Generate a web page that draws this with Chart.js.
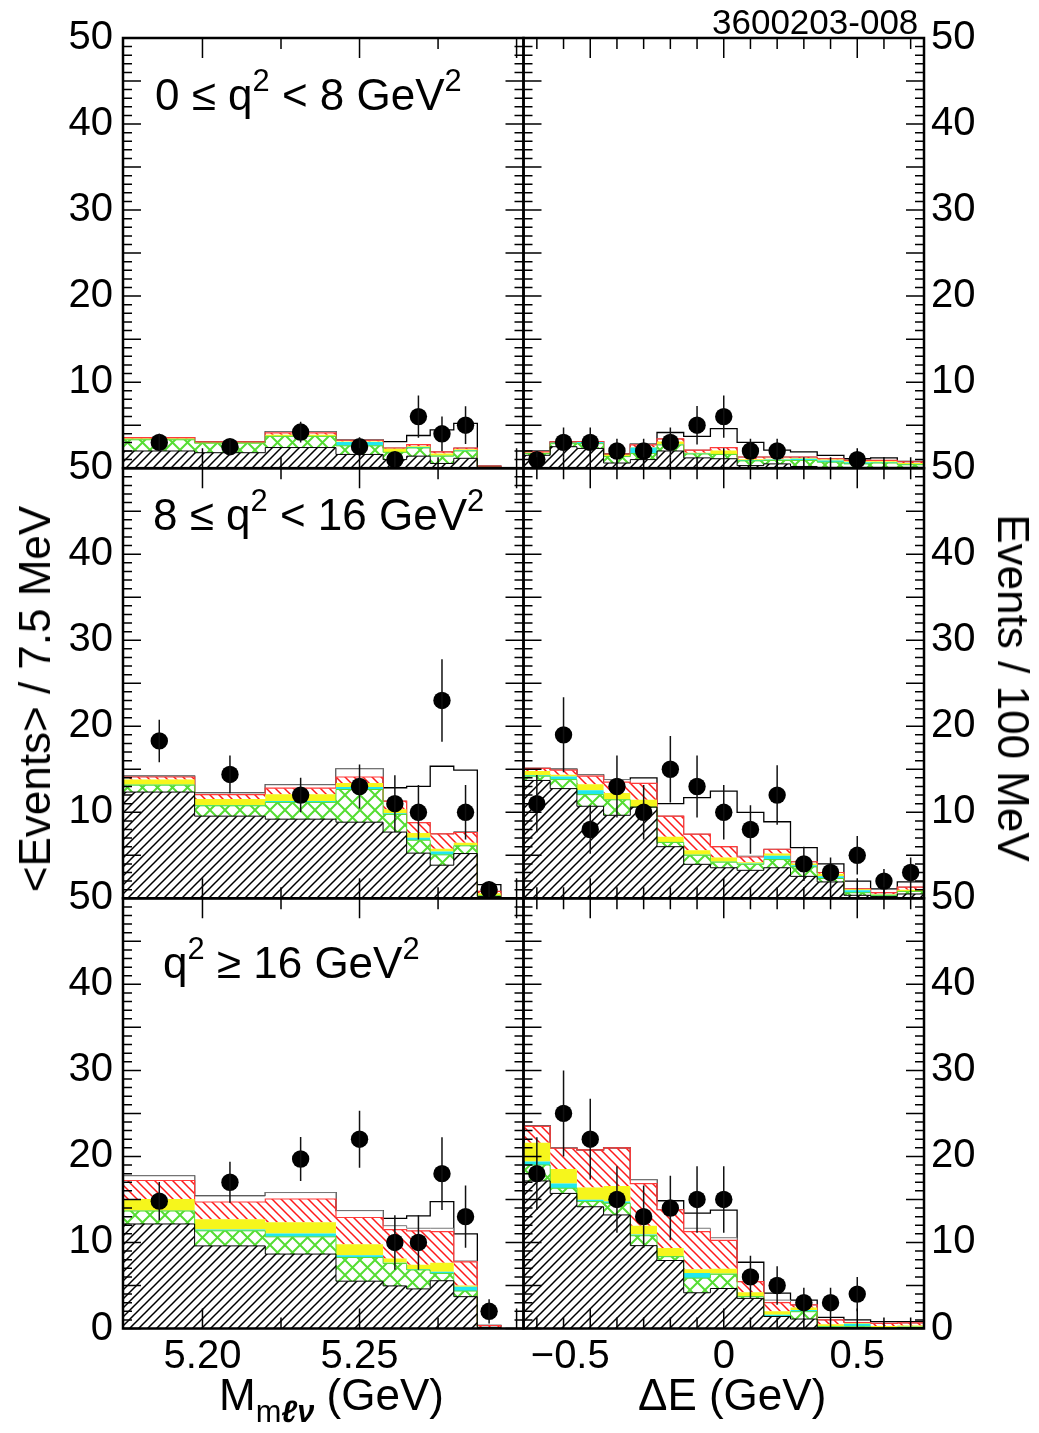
<!DOCTYPE html>
<html>
<head>
<meta charset="utf-8">
<title>3600203-008</title>
<script src="https://cdn.jsdelivr.net/npm/chart.js@4.4.1/dist/chart.umd.min.js"></script>
<style>
  body { margin: 0; background: #fff; }
  #page { position: relative; width: 1039px; height: 1433px; overflow: hidden; font-family: "Liberation Sans", Arial, sans-serif; color: #000; }
  #page canvas { position: absolute; left: 0; top: 0; }
  .txt { position: absolute; white-space: nowrap; line-height: 1; }
  .sup { font-size: 0.7em; position: relative; top: -0.62em; }
  .sub { font-size: 0.7em; position: relative; top: 0.38em; }
</style>
</head>
<body>
<div id="page">
  <canvas id="c0" width="1039" height="1433"></canvas>
  <canvas id="c1" width="1039" height="1433"></canvas>
  <canvas id="c2" width="1039" height="1433"></canvas>
  <canvas id="c3" width="1039" height="1433"></canvas>
  <canvas id="c4" width="1039" height="1433"></canvas>
  <canvas id="c5" width="1039" height="1433"></canvas>

  <div class="txt" style="left:712px; top:4px; font-size:35px;">3600203-008</div>
  <div class="txt" style="left:155px; top:73px; font-size:44px;">0 &le; q<span class="sup">2</span> &lt; 8 GeV<span class="sup">2</span></div>
  <div class="txt" style="left:153px; top:493px; font-size:44px;">8 &le; q<span class="sup">2</span> &lt; 16 GeV<span class="sup">2</span></div>
  <div class="txt" style="left:163px; top:941px; font-size:44px;">q<span class="sup">2</span> &ge; 16 GeV<span class="sup">2</span></div>
  <div class="txt" style="left:219px; top:1373px; font-size:44px;">M<span class="sub">m<b><i>&#8467;&nu;</i></b></span> (GeV)</div>
  <div class="txt" style="left:638px; top:1373px; font-size:44px;">&Delta;E (GeV)</div>
  <div class="txt" style="left:35px; top:699px; font-size:44px; transform:translate(-50%,-50%) rotate(-90deg);">&lt;Events&gt; / 7.5 MeV</div>
  <div class="txt" style="left:1013px; top:688px; font-size:44px; transform:translate(-50%,-50%) rotate(90deg);">Events / 100 MeV</div>
</div>

<script>
// bin edges and tick values
const massEdges = [5.175, 5.1975, 5.22, 5.2425, 5.2575, 5.265, 5.2725, 5.28, 5.2875, 5.295]
const deEdges = [-0.75, -0.65, -0.55, -0.45, -0.35, -0.25, -0.15, -0.05, 0.05, 0.15, 0.25, 0.35, 0.45, 0.55, 0.65, 0.75]
const massLabelTicks = [5.20, 5.25]
const massMajorTicks = [5.20, 5.25, 5.30]
const massMinorTicks = [5.225, 5.275]
const deLabelTicks = [-0.5, 0, 0.5]
const deMajorTicks = [-0.5, 0, 0.5]
const deMinorTicks = [-0.7, -0.6, -0.4, -0.3, -0.2, -0.1, 0.1, 0.2, 0.3, 0.4, 0.6, 0.7]

// 0 <= q2 < 8, M(m l nu)
const lowMassHatch  = [2.0, 1.8, 2.4, 1.6, 1.0, 1.4, 0.55, 1.15, 0.1]
const lowMassCross  = [1.3, 1.1, 1.3, 1.0, 0.85, 0.95, 0.85, 0.85, 0]
const lowMassCyan   = [0.05, 0, 0.05, 0.45, 0, 0.1, 0.05, 0.1, 0]
const lowMassYellow = [0.1, 0.05, 0.15, 0.05, 0.4, 0.1, 0.25, 0.1, 0]
const lowMassRed    = [0.1, 0.1, 0.2, 0.15, 0.1, 0.2, 0.2, 0.15, 0.15]
const lowMassOther  = [0, 0, 0.15, 0.05, 0, 0, 0, 0, 0]
const lowMassOpen   = [0, 0, 0, 0, 0.75, 1.05, 2.55, 2.85, 0]
const lowMassData   = [3.0, 2.5, 4.2, 2.5, 1.0, 6.0, 4.0, 5.0, null]
const lowMassErr    = [1.0, 0.9, 1.2, 1.1, 1.0, 2.45, 2.0, 2.2, null]

// 0 <= q2 < 8, Delta E
const lowDeHatch  = [1.5, 2.5, 2.3, 0.6, 1.0, 2.0, 1.2, 1.1, 0.3, 0.5, 0.2, 0.1, 0.1, 0.1, 0.1]
const lowDeCross  = [0.2, 0.35, 0.55, 0.75, 0.7, 0.7, 0.45, 0.5, 0.55, 0.4, 0.7, 0.6, 0.4, 0.5, 0.3]
const lowDeCyan   = [0, 0.1, 0.2, 0, 0.7, 0.05, 0.05, 0, 0.1, 0.1, 0.2, 0.2, 0.2, 0.1, 0.1]
const lowDeYellow = [0.1, 0.05, 0, 0.2, 0.05, 0.35, 0.1, 0.45, 0.1, 0.1, 0.1, 0.1, 0.1, 0.1, 0.1]
const lowDeRed    = [0.1, 0.05, 0.05, 0.1, 0.25, 0.3, 0.3, 0.35, 0.25, 0.2, 0.1, 0.1, 0.1, 0.1, 0.15]
const lowDeOther  = [0.1, 0, 0, 0, 0.1, 0, 0, 0, 0, 0, 0, 0, 0, 0, 0]
const lowDeOpen   = [0, 0, 0, 0, 0, 0.75, 1.6, 2.2, 1.7, 0.8, 0.6, 0.4, 0.2, 0.3, 0.05]
const lowDeData   = [1, 3, 3, 2, 2, 3, 5, 6, 2, 2, null, null, 1, null, null]
const lowDeErr    = [1, 1.73, 1.73, 1.41, 1.41, 1.73, 2.24, 2.45, 1.41, 1.41, null, null, 1, null, null]

// 8 <= q2 < 16, M(m l nu)
const midMassHatch  = [12.35, 9.55, 9.2, 8.85, 7.7, 5.25, 3.85, 5.2, 0.2]
const midMassCross  = [0.8, 1.2, 1.95, 3.8, 2.05, 1.5, 1.2, 0.9, 0.1]
const midMassCyan   = [0.05, 0.1, 0.15, 0.3, 0.15, 0.3, 0.4, 0.05, 0]
const midMassYellow = [0.6, 0.7, 0.8, 0.45, 0.45, 0.55, 0.3, 0.3, 0.3]
const midMassRed    = [0.3, 0.5, 0.7, 0.7, 0.95, 1.2, 1.75, 1.2, 0.2]
const midMassOther  = [0.1, 0.2, 0.4, 0.95, 0, 0, 0, 0.1, 0]
const midMassOpen   = [0, 0, 0, 0, 1.55, 4.2, 7.85, 7.15, 0.8]
const midMassData   = [18.3, 14.4, 12.0, 13.0, 11.0, 10.0, 23.0, 10.0, 1.0]
const midMassErr    = [2.47, 2.19, 2.0, 2.55, 3.3, 3.16, 4.8, 3.16, 1.0]

// 8 <= q2 < 16, Delta E
const midDeHatch  = [13.7, 12.75, 10.7, 9.65, 10.6, 6.0, 3.95, 3.55, 3.25, 3.55, 2.55, 1.9, 0.35, 0.2, 0.5]
const midDeCross  = [0.5, 1.05, 1.35, 1.8, 0, 0.5, 1.05, 0.65, 0.7, 0.95, 1.1, 0.4, 0.3, 0.1, 0.3]
const midDeCyan   = [0.1, 0.35, 0.5, 0.05, 0, 0.05, 0.05, 0.05, 0.1, 0.45, 0.2, 0.25, 0.3, 0.1, 0]
const midDeYellow = [0.5, 0.2, 0.7, 0.75, 0.85, 0.6, 0.55, 0.5, 0.15, 0.25, 0.2, 0.3, 0.1, 0.1, 0.2]
const midDeRed    = [0.3, 0.55, 0.95, 1.25, 1.9, 2.4, 1.85, 1.25, 0.6, 0.5, 0.2, 0.15, 0.05, 0.15, 0.3]
const midDeOther  = [0, 0.1, 0.15, 0.3, 0, 0, 0, 0, 0.1, 0, 0, 0, 0, 0, 0]
const midDeOpen   = [0, 0, 0, 0, 0.65, 1.45, 4.25, 6.45, 5.1, 3.2, 1.65, 1.0, 0.9, 0.45, 0.6]
const midDeData   = [11, 19, 8, 13, 10, 15, 13, 10, 8, 12, 4, 3, 5, 2, 3]
const midDeErr    = [3.32, 4.36, 2.83, 3.61, 3.16, 3.87, 3.61, 3.16, 2.83, 3.46, 2.0, 1.73, 2.24, 1.41, 1.73]

// q2 >= 16, M(m l nu)
const highMassHatch  = [12.15, 9.6, 8.65, 5.5, 4.95, 4.6, 5.55, 3.7, 0.1]
const highMassCross  = [1.5, 1.75, 2.0, 2.75, 2.6, 2.2, 0.85, 0.65, 0]
const highMassCyan   = [0.05, 0.15, 0.4, 0.25, 0.1, 0.1, 0.2, 0.5, 0]
const highMassYellow = [1.35, 1.2, 1.3, 1.3, 0.5, 0.5, 1.05, 0.15, 0]
const highMassRed    = [2.15, 2.0, 2.7, 3.1, 3.35, 3.95, 3.6, 2.75, 0.25]
const highMassOther  = [0.55, 0.7, 0.75, 0.8, 0.45, 0.3, 0.4, 0.1, 0]
const highMassOpen   = [0, 0, 0, 0, 0.85, 1.45, 3.1, 3.15, 0]
const highMassData   = [14.8, 17.0, 19.7, 22.0, 10.0, 10.0, 18.0, 13.0, 2.0]
const highMassErr    = [2.22, 2.38, 2.56, 3.32, 3.16, 3.16, 4.24, 3.61, 1.41]

// q2 >= 16, Delta E
const highDeHatch  = [17.15, 15.7, 14.15, 13.2, 9.63, 7.9, 4.15, 4.65, 3.5, 1.4, 1.1, 0.1, 0.1, 0.05, 0.1]
const highDeCross  = [1.85, 0.6, 0.6, 1.35, 1.15, 0.45, 1.7, 1.65, 0.2, 0, 0.85, 0.1, 0.15, 0.05, 0.05]
const highDeCyan   = [0.4, 0.55, 0.2, 0.2, 0.15, 0.05, 0.6, 0.05, 0.05, 0.2, 0.2, 0.1, 0.3, 0.05, 0.05]
const highDeYellow = [2.2, 1.7, 1.45, 1.8, 1.0, 0.95, 0.45, 0.6, 0.45, 0.4, 0.3, 0.2, 0.1, 0.15, 0.15]
const highDeRed    = [1.9, 2.4, 4.35, 4.45, 4.9, 4.45, 4.35, 3.3, 1.25, 1.0, 0.3, 0.5, 0.05, 0.3, 0.3]
const highDeOther  = [0.05, 0.05, 0, 0, 0.45, 0, 0.4, 0.3, 0, 0.3, 0, 0, 0, 0, 0]
const highDeOpen   = [0, 0, 0, 0, 0, 1.05, 1.75, 3.2, 2.25, 0.8, 0.55, 0.3, 0.3, 0.2, 0.15]
const highDeData   = [18, 25, 22, 15, 13, 14, 15, 15, 6, 5, 3, 3, 4, null, null]
const highDeErr    = [4.24, 5.0, 4.69, 3.87, 3.61, 3.74, 3.87, 3.87, 2.45, 2.24, 1.73, 1.73, 2.0, null, null]

Chart.defaults.font.family = '"Liberation Sans", Arial, sans-serif'
Chart.defaults.color = '#000'

// hatch fills like the ROOT fill styles
function makeHatch(size, color, width, dirs) {
  const c = document.createElement('canvas')
  c.width = size
  c.height = size
  const g = c.getContext('2d')
  g.strokeStyle = color
  g.lineWidth = width
  g.beginPath()
  if (dirs.includes('/')) {
    g.moveTo(-1, size + 1); g.lineTo(size + 1, -1)
    g.moveTo(-1, 1); g.lineTo(1, -1)
    g.moveTo(size - 1, size + 1); g.lineTo(size + 1, size - 1)
  }
  if (dirs.includes('\\')) {
    g.moveTo(-1, -1); g.lineTo(size + 1, size + 1)
    g.moveTo(size - 1, -1); g.lineTo(size + 1, 1)
    g.moveTo(-1, size - 1); g.lineTo(1, size + 1)
  }
  g.stroke()
  return g.createPattern(c, 'repeat')
}

const hatchBlack = makeHatch(9, '#000', 1.5, '/')
const hatchRed = makeHatch(9, '#ff1a1a', 1.5, '\\')
const crossGreen = makeHatch(15, '#55dd33', 2, '/\\')

const layerStyles = [
  { fill: hatchBlack, line: '#000', w: 1 },
  { fill: crossGreen, line: '#55dd33', w: 1 },
  { fill: '#20e8f0', line: 'rgba(0,0,0,0)', w: 1 },
  { fill: '#f6f61c', line: 'rgba(0,0,0,0)', w: 1 },
  { fill: hatchRed, line: '#ff3a3a', w: 1.2 },
  { fill: '#fff', line: '#777', w: 1 },
  { fill: '#fff', line: '#000', w: 1.3 },
]

const colX = [[123, 523.5], [523.5, 924]]
const rowY = [[38, 468.2], [468.2, 898.3], [898.3, 1328.5]]

const panels = [
  { row: 0, col: 0, layers: [lowMassHatch, lowMassCross, lowMassCyan, lowMassYellow, lowMassRed, lowMassOther, lowMassOpen], data: lowMassData, err: lowMassErr },
  { row: 0, col: 1, layers: [lowDeHatch, lowDeCross, lowDeCyan, lowDeYellow, lowDeRed, lowDeOther, lowDeOpen], data: lowDeData, err: lowDeErr },
  { row: 1, col: 0, layers: [midMassHatch, midMassCross, midMassCyan, midMassYellow, midMassRed, midMassOther, midMassOpen], data: midMassData, err: midMassErr },
  { row: 1, col: 1, layers: [midDeHatch, midDeCross, midDeCyan, midDeYellow, midDeRed, midDeOther, midDeOpen], data: midDeData, err: midDeErr },
  { row: 2, col: 0, layers: [highMassHatch, highMassCross, highMassCyan, highMassYellow, highMassRed, highMassOther, highMassOpen], data: highMassData, err: highMassErr },
  { row: 2, col: 1, layers: [highDeHatch, highDeCross, highDeCyan, highDeYellow, highDeRed, highDeOther, highDeOpen], data: highDeData, err: highDeErr },
]

const Y_AXIS_W = 80
const X_AXIS_H = 60

function stepPoints(edges, values) {
  const pts = values.map((v, i) => ({ x: edges[i], y: v }))
  const last = edges[edges.length - 1]
  pts.push({ x: last, y: values[values.length - 1] })
  pts.push({ x: last, y: 0 })
  return pts
}

// ROOT puts the minus sign of negative labels out to the left
function deLabel(v) {
  if (v < 0) return '\u2212' + Math.abs(v) + '\u2003'
  return String(v)
}

function drawPanel(p, idx) {
  const isMass = p.col === 0
  const edges = isMass ? massEdges : deEdges
  const left = colX[p.col][0], right = colX[p.col][1]
  const top = rowY[p.row][0], bottom = rowY[p.row][1]
  const showX = p.row === 2

  // running sum of the stacked components
  let running = edges.slice(1).map(() => 0)
  const layerSets = p.layers.map((vals, k) => {
    running = running.map((r, i) => r + vals[i])
    const st = layerStyles[k]
    return {
      data: stepPoints(edges, running),
      stepped: true,
      fill: k === 0 ? 'origin' : '-1',
      backgroundColor: st.fill,
      borderColor: st.line,
      borderWidth: st.w,
      pointRadius: 0,
      order: 1,
    }
  })

  const pts = []
  const bars = []
  p.data.forEach((v, i) => {
    if (v === null) return
    const xc = (edges[i] + edges[i + 1]) / 2
    pts.push({ x: xc, y: v })
    bars.push({ x: xc, lo: v - p.err[i], hi: v + p.err[i] })
  })

  const frame = {
    id: 'frame' + idx,
    afterDatasetsDraw(chart) {
      const { ctx, chartArea: a, scales: { x, y } } = chart
      ctx.save()
      ctx.beginPath()
      ctx.rect(a.left, a.top, a.width, a.height)
      ctx.clip()
      ctx.strokeStyle = '#111'
      ctx.lineWidth = 1.5
      ctx.beginPath()
      bars.forEach((b) => {
        const px = x.getPixelForValue(b.x)
        ctx.moveTo(px, y.getPixelForValue(b.lo))
        ctx.lineTo(px, y.getPixelForValue(b.hi))
      })
      ctx.stroke()
      ctx.restore()
    },
    afterDraw(chart) {
      const { ctx, chartArea: a, scales: { x, y } } = chart
      ctx.save()
      ctx.strokeStyle = '#000'
      ctx.lineWidth = 1.5
      ctx.beginPath()
      for (let v = 0; v <= 50; v++) {
        const py = y.getPixelForValue(v)
        const len = v % 5 === 0 ? 18 : 9
        ctx.moveTo(a.left, py); ctx.lineTo(a.left + len, py)
        ctx.moveTo(a.right, py); ctx.lineTo(a.right - len, py)
      }
      const major = isMass ? massMajorTicks : deMajorTicks
      const minor = isMass ? massMinorTicks : deMinorTicks
      major.concat(minor).forEach((v) => {
        const px = x.getPixelForValue(v)
        const len = major.includes(v) ? 20 : 11
        ctx.moveTo(px, a.bottom); ctx.lineTo(px, a.bottom - len)
        ctx.moveTo(px, a.top); ctx.lineTo(px, a.top + len)
      })
      ctx.stroke()
      ctx.lineWidth = 2.5
      ctx.strokeRect(a.left, a.top, a.width, a.height)
      ctx.restore()
    },
  }

  new Chart(document.getElementById('c' + idx), {
    type: 'line',
    data: {
      datasets: [
        {
          data: pts,
          showLine: false,
          pointRadius: 8.7,
          pointHoverRadius: 8.7,
          pointBackgroundColor: '#000',
          pointBorderWidth: 0,
          clip: false,
          order: 0,
        },
        ...layerSets,
      ],
    },
    options: {
      responsive: false,
      animation: false,
      events: [],
      layout: {
        padding: {
          left: p.col === 0 ? left - Y_AXIS_W : left,
          right: p.col === 1 ? 1039 - right - Y_AXIS_W : 1039 - right,
          top: top,
          bottom: 1433 - bottom - (showX ? X_AXIS_H : 0),
        },
      },
      plugins: { legend: { display: false }, tooltip: { enabled: false } },
      scales: {
        x: {
          type: 'linear',
          min: isMass ? 5.1747 : -0.75,
          max: isMass ? 5.3022 : 0.75,
          display: showX,
          grid: { display: false, drawTicks: false, tickLength: 0 },
          border: { display: false },
          afterBuildTicks: (s) => { s.ticks = (isMass ? massLabelTicks : deLabelTicks).map((v) => ({ value: v })) },
          afterFit: (s) => { s.height = showX ? X_AXIS_H : 0 },
          ticks: {
            autoSkip: false,
            maxRotation: 0,
            padding: 4,
            font: { size: 40 },
            color: '#000',
            callback: (v) => isMass ? v.toFixed(2) : deLabel(v),
          },
        },
        y: {
          type: 'linear',
          min: 0,
          max: 50,
          position: p.col === 0 ? 'left' : 'right',
          grid: { display: false, drawTicks: false, tickLength: 0 },
          border: { display: false },
          afterFit: (s) => { s.width = Y_AXIS_W },
          ticks: {
            stepSize: 10,
            padding: p.col === 0 ? 10 : 7,
            font: { size: 40 },
            color: '#000',
            callback: (v) => (v === 0 && p.row < 2 ? '' : String(v)),
          },
        },
      },
    },
    plugins: [frame],
  })
}

panels.forEach(drawPanel)
</script>
</body>
</html>
